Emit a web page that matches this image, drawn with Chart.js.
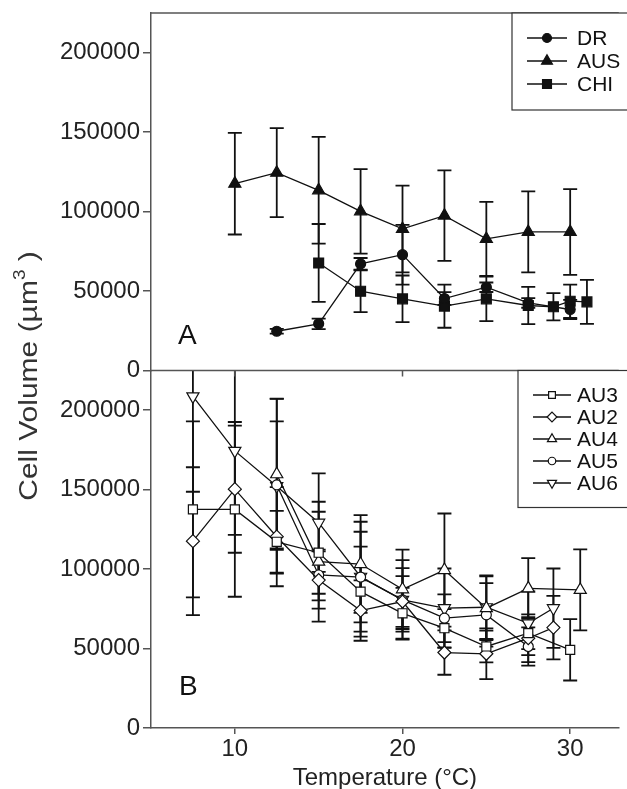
<!DOCTYPE html>
<html>
<head>
<meta charset="utf-8">
<script src="https://cdn.jsdelivr.net/npm/chart.js@4.4.1/dist/chart.umd.min.js"></script>
<style>
  html, body { margin: 0; padding: 0; background: #fff; }
  #wrap { width: 627px; height: 789px; }
</style>
</head>
<body>
<div id="wrap"><canvas id="chart" width="627" height="789"></canvas></div>
<script>
// Axis ticks
const X_TICKS = [10, 20, 30];
const Y_TICKS = [0, 50000, 100000, 150000, 200000];

// Panel A
const DR_T = [12.5, 15, 17.5, 20, 22.5, 25, 27.5, 30];
const DR = [24700, 29400, 67100, 72900, 45300, 52400, 42500, 38400];
const DR_ERR = [1500, 3300, 3700, 18800, 4000, 3000, 3000, 6000];

const AUS_T = [10, 12.5, 15, 17.5, 20, 22.5, 25, 27.5, 30];
const AUS = [117600, 124500, 113400, 100200, 89100, 97500, 82800, 87200, 87200];
const AUS_ERR = [32000, 28000, 33600, 26600, 27300, 28500, 23300, 25500, 27000];

const CHI_T = [15, 17.5, 20, 22.5, 25, 27.5, 29, 30, 31];
const CHI = [67700, 49900, 45100, 40500, 45100, 40900, 40100, 43600, 43200];
const CHI_ERR = [24500, 13200, 14700, 13600, 14000, 11700, 8600, 10500, 13800];

// Panel B
const AU3_T = [7.5, 10, 12.5, 15, 17.5, 20, 22.5, 25, 27.5, 30];
const AU3 = [137600, 137600, 117200, 110300, 85800, 72200, 62800, 51300, 59700, 49200];
const AU3_ERR = [55400, 55000, 19500, 25800, 28300, 16000, 12000, 10000, 10000, 19300];

const AU2_T = [7.5, 10, 12.5, 15, 17.5, 20, 22.5, 25, 27.5, 29];
const AU2 = [117600, 150300, 120400, 93100, 73900, 79600, 47500, 46700, 56500, 63200];
const AU2_ERR = [46500, 40000, 31200, 18000, 19000, 16000, 14000, 16000, 15000, 20000];

const AU4_T = [12.5, 15, 17.5, 20, 22.5, 25, 27.5, 30.6];
const AU4 = [159700, 104700, 103200, 87300, 99400, 75400, 87900, 86900];
const AU4_ERR = [47600, 37700, 30800, 25000, 35600, 20000, 19000, 25500];

const AU5_T = [12.5, 15, 17.5, 20, 22.5, 25, 27.5];
const AU5 = [153000, 96300, 95000, 80600, 69100, 71200, 51300];
const AU5_ERR = [40000, 16000, 28500, 20000, 15000, 20000, 12000];

const AU6_T = [7.5, 10, 12.5, 15, 17.5, 20, 22.5, 25, 27.5, 29];
const AU6 = [208700, 174400, 152200, 129200, 95200, 80600, 75400, 76000, 65900, 75400];
const AU6_ERR = [60000, 52800, 55000, 31000, 34600, 25000, 25000, 20000, 20000, 25000];

Chart.defaults.font.family = "'Liberation Sans', Arial, sans-serif";
Chart.defaults.color = '#222';

const TITLE_FONT = "'Liberation Sans Narrow', 'Liberation Sans', sans-serif";

function series(label, temps, vals, errs, axis, style, fill, radius, rotation) {
    return {
        label: label,
        data: temps.map((t, i) => ({ x: t, y: vals[i] })),
        errors: errs,
        yAxisID: axis,
        borderColor: '#111',
        borderWidth: 1.3,
        pointStyle: style,
        pointRotation: rotation || 0,
        pointRadius: radius,
        pointBackgroundColor: fill,
        pointBorderColor: '#111',
        pointBorderWidth: 1.2,
        tension: 0
    };
}

const setA = [
    series('DR', DR_T, DR, DR_ERR, 'yA', 'circle', '#111', 5),
    series('AUS', AUS_T, AUS, AUS_ERR, 'yA', 'triangle', '#111', 7),
    series('CHI', CHI_T, CHI, CHI_ERR, 'yA', 'rect', '#111', 7)
];
const setB = [
    series('AU3', AU3_T, AU3, AU3_ERR, 'yB', 'rect', '#fff', 6.4),
    series('AU2', AU2_T, AU2, AU2_ERR, 'yB', 'rectRot', '#fff', 6.5),
    series('AU4', AU4_T, AU4, AU4_ERR, 'yB', 'triangle', '#fff', 7),
    series('AU5', AU5_T, AU5, AU5_ERR, 'yB', 'circle', '#fff', 5),
    series('AU6', AU6_T, AU6, AU6_ERR, 'yB', 'triangle', '#fff', 7, 180)
];

// error bars, clipped to each panel
const errorBars = {
    id: 'errorBars',
    beforeDatasetsDraw(chart) {
        const ctx = chart.ctx, xs = chart.scales.x, area = chart.chartArea;
        chart.data.datasets.forEach(ds => {
            const ys = chart.scales[ds.yAxisID];
            ctx.save();
            ctx.beginPath();
            ctx.rect(area.left, ys.top, area.right - area.left, ys.bottom - ys.top);
            ctx.clip();
            ctx.strokeStyle = '#111';
            ctx.lineWidth = 1.8;
            ds.data.forEach((p, j) => {
                const px = xs.getPixelForValue(p.x);
                const hi = ys.getPixelForValue(p.y + ds.errors[j]);
                const lo = ys.getPixelForValue(p.y - ds.errors[j]);
                ctx.beginPath();
                ctx.moveTo(px, hi); ctx.lineTo(px, lo);
                ctx.moveTo(px - 7, hi); ctx.lineTo(px + 7, hi);
                ctx.moveTo(px - 7, lo); ctx.lineTo(px + 7, lo);
                ctx.stroke();
            });
            ctx.restore();
        });
    }
};

function drawLegend(ctx, box, items, scale) {
    ctx.save();
    ctx.fillStyle = '#fff';
    ctx.fillRect(box.x, box.y, box.w, box.h);
    ctx.strokeStyle = '#333';
    ctx.lineWidth = 1.2;
    ctx.strokeRect(box.x, box.y, box.w, box.h);
    ctx.font = "21px 'Liberation Sans', Arial, sans-serif";
    ctx.textBaseline = 'middle';
    items.forEach((ds, k) => {
        const cy = box.first + k * box.step;
        ctx.strokeStyle = '#111';
        ctx.lineWidth = 1.3;
        ctx.beginPath();
        ctx.moveTo(box.lx0, cy); ctx.lineTo(box.lx1, cy);
        ctx.stroke();
        ctx.fillStyle = ds.pointBackgroundColor;
        ctx.lineWidth = 1.2;
        Chart.helpers.drawPoint(ctx, {
            pointStyle: ds.pointStyle,
            rotation: ds.pointRotation,
            radius: ds.pointRadius * scale,
            borderWidth: 1.2
        }, (box.lx0 + box.lx1) / 2, cy);
        ctx.fillStyle = '#111';
        ctx.fillText(ds.label, box.tx, cy + 1);
    });
    ctx.restore();
}

const decorations = {
    id: 'decorations',
    afterDatasetsDraw(chart) {
        const ctx = chart.ctx, area = chart.chartArea;
        const ya = chart.scales.yA, yb = chart.scales.yB, xs = chart.scales.x;
        ctx.save();
        // frame lines
        ctx.strokeStyle = '#555';
        ctx.lineWidth = 1.5;
        ctx.beginPath();
        ctx.moveTo(area.left, ya.top); ctx.lineTo(area.right, ya.top);
        ctx.moveTo(area.left, ya.bottom); ctx.lineTo(area.right, ya.bottom);
        X_TICKS.forEach(v => {
            const px = xs.getPixelForValue(v);
            ctx.moveTo(px, yb.top); ctx.lineTo(px, yb.top + 6);
        });
        ctx.stroke();

        drawLegend(ctx, { x: 512, y: ya.top, w: 140, h: 97, first: 38, step: 23, lx0: 527, lx1: 567, tx: 577 }, setA, 0.9);
        drawLegend(ctx, { x: 518, y: yb.top, w: 140, h: 137, first: 395, step: 22, lx0: 533, lx1: 571, tx: 577 }, setB, 0.75);

        // panel letters
        ctx.fillStyle = '#111';
        ctx.font = "28px 'Liberation Sans', Arial, sans-serif";
        ctx.textBaseline = 'alphabetic';
        ctx.fillText('A', 178, 344);
        ctx.fillText('B', 179, 695);

        // shared y title with superscript
        const main = 'Cell Volume (\u00b5m', sup = '3', tail = ' )';
        ctx.fillStyle = '#333';
        ctx.translate(30, 376);
        ctx.rotate(-Math.PI / 2);
        ctx.scale(1.0, 0.85);
        ctx.font = '30px ' + TITLE_FONT;
        const w1 = ctx.measureText(main).width, w3 = ctx.measureText(tail).width;
        ctx.font = '19px ' + TITLE_FONT;
        const w2 = ctx.measureText(sup).width;
        const x0 = -(w1 + w2 + w3) / 2;
        ctx.textBaseline = 'middle';
        ctx.font = '30px ' + TITLE_FONT;
        ctx.fillText(main, x0, 0);
        ctx.font = '19px ' + TITLE_FONT;
        ctx.fillText(sup, x0 + w1, -11);
        ctx.font = '30px ' + TITLE_FONT;
        ctx.fillText(tail, x0 + w1 + w2, 0);
        ctx.restore();
    }
};

function yAxis() {
    return {
        type: 'linear',
        position: 'left',
        stack: 'panels',
        stackWeight: 1,
        min: 0,
        max: 225000,
        afterBuildTicks: s => { s.ticks = Y_TICKS.map(v => ({ value: v })); },
        afterFit: s => { s.width = 151; s.paddingTop = 0; s.paddingBottom = 0; },
        grid: { drawOnChartArea: false, drawTicks: true, tickLength: 8, color: '#555', lineWidth: 1.5 },
        border: { color: '#555', width: 1.5 },
        ticks: { font: { size: 24 }, color: '#222', padding: 3, callback: v => String(v) }
    };
}

new Chart(document.getElementById('chart').getContext('2d'), {
    type: 'line',
    data: { datasets: setA.concat(setB) },
    options: {
        responsive: false,
        animation: false,
        layout: { padding: { top: 13, left: 0, right: 0, bottom: 0 } },
        plugins: { legend: { display: false }, tooltip: { enabled: false } },
        scales: {
            x: {
                type: 'linear',
                min: 5,
                max: 32.9,
                afterBuildTicks: s => { s.ticks = X_TICKS.map(v => ({ value: v })); },
                afterFit: s => { s.height = 61; s.paddingLeft = 0; s.paddingRight = 0; },
                grid: { drawOnChartArea: false, drawTicks: true, tickLength: 6, color: '#555', lineWidth: 1.5 },
                border: { color: '#555', width: 1.5 },
                ticks: { font: { size: 24 }, color: '#222', padding: 1, maxRotation: 0, autoSkip: false },
                title: { display: true, text: 'Temperature (\u00b0C)', font: { size: 24 }, color: '#222', padding: { top: 0, bottom: -4 } }
            },
            yB: yAxis(),
            yA: yAxis()
        }
    },
    plugins: [errorBars, decorations]
});
</script>
</body>
</html>
